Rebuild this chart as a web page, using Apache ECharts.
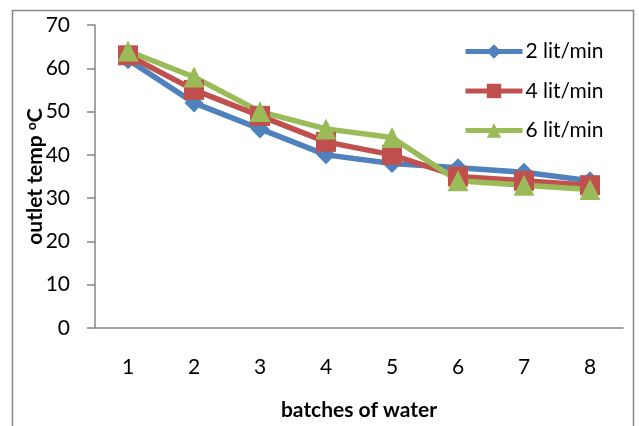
<!DOCTYPE html>
<html>
<head>
<meta charset="utf-8">
<script src="https://cdn.jsdelivr.net/npm/echarts@6/dist/echarts.min.js"></script>
<style>
  html, body { margin: 0; padding: 0; background: #fff; }
  #chart { width: 639px; height: 426px; }
</style>
</head>
<body>
<div id="chart"></div>
<script>
// Batch numbers along the x axis
const batches = ['1', '2', '3', '4', '5', '6', '7', '8'];
// Outlet temperature (°C) for each flow rate
const flow2 = [62, 52, 46, 40, 38, 37, 36, 34];
const flow4 = [63, 55, 49, 43, 40, 35, 34, 33];
const flow6 = [64, 58, 50, 46, 44, 34, 33, 32];
const seriesNames = ['2 lit/min', '4 lit/min', '6 lit/min'];

const FONT = 'Lato, "Open Sans", sans-serif';
const axisGray = '#868686';

const chart = echarts.init(document.getElementById('chart'), null, { renderer: 'canvas' });

function lineSeries(name, data, color, symbol, size) {
  return {
    name: name,
    type: 'line',
    data: data,
    symbol: symbol,
    symbolSize: size,
    lineStyle: { color: color, width: 5.5 },
    itemStyle: { color: color },
    animation: false,
    z: 2
  };
}

chart.setOption({
  backgroundColor: '#fff',
  textStyle: { fontFamily: FONT },
  graphic: [{
    type: 'rect',
    shape: { x: 12.5, y: 10.5, width: 621, height: 440 },
    style: { fill: 'none', stroke: axisGray, lineWidth: 1.5 },
    silent: true,
    z: 0
  }],
  grid: { left: 95, top: 25, width: 528, height: 306, containLabel: false },
  legend: {
    orient: 'vertical',
    left: 458,
    top: 36,
    itemWidth: 57,
    itemHeight: 18,
    itemGap: 18.5,
    data: seriesNames,
    lineStyle: { width: 5 },
    textStyle: { fontFamily: FONT, fontSize: 21, lineHeight: 18, color: '#000', padding: [0, 0, 0, -2] }
  },
  xAxis: {
    type: 'category',
    data: batches,
    boundaryGap: true,
    axisLine: { lineStyle: { color: axisGray, width: 1.5 } },
    axisTick: { show: false },
    axisLabel: { fontFamily: FONT, fontSize: 21, color: '#000', margin: 29 },
    name: 'batches of water',
    nameLocation: 'middle',
    nameGap: 72,
    nameMoveOverlap: false,
    nameTextStyle: { fontFamily: FONT, fontSize: 21, fontWeight: 'bold', color: '#000' }
  },
  yAxis: {
    type: 'value',
    min: 0,
    max: 70,
    interval: 10,
    splitLine: { show: false },
    axisLine: { show: true, lineStyle: { color: axisGray, width: 1.5 } },
    axisTick: { show: true, inside: false, length: 8, lineStyle: { color: axisGray, width: 1.5 } },
    axisLabel: { fontFamily: FONT, fontSize: 21, color: '#000', margin: 25 },
    name: 'outlet temp {sup|o}C',
    nameLocation: 'middle',
    nameGap: 48,
    nameMoveOverlap: false,
    nameRotate: 90,
    nameTextStyle: {
      fontFamily: FONT, fontSize: 21, fontWeight: 'bold', color: '#000',
      rich: {
        sup: { fontFamily: FONT, fontSize: 14, fontWeight: 'bold', color: '#000', verticalAlign: 'top', padding: [0, 0, 9, 0] }
      }
    }
  },
  series: [
    lineSeries(seriesNames[0], flow2, '#4F81BD', 'diamond', 19),
    lineSeries(seriesNames[1], flow4, '#C0504D', 'rect', 20),
    lineSeries(seriesNames[2], flow6, '#9BBB59', 'triangle', 21)
  ]
});
</script>
</body>
</html>
